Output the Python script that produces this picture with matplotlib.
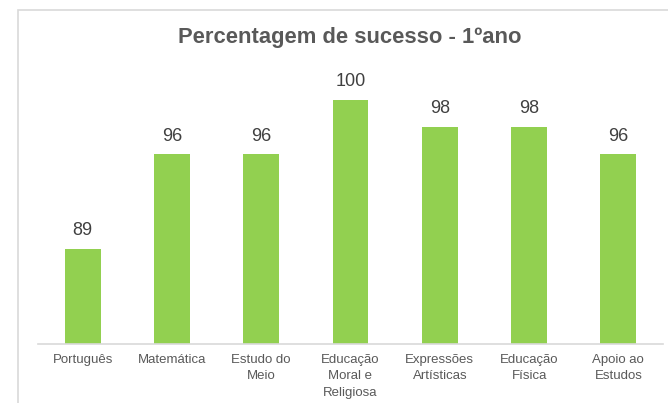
import matplotlib
matplotlib.use("Agg")
import matplotlib.pyplot as plt
from matplotlib.patches import Rectangle

categories = ["Português", "Matemática", "Estudo do\nMeio", "Educação\nMoral e\nReligiosa",
              "Expressões\nArtísticas", "Educação\nFísica", "Apoio ao\nEstudos"]
values = [89, 96, 96, 100, 98, 98, 96]
title = "Percentagem de sucesso - 1ºano"

W, H = 668, 403
fig = plt.figure(figsize=(W / 100, H / 100), dpi=100)
fig.patch.set_facecolor("white")

# chart frame
fig.patches.append(Rectangle((18 / W, -0.1), 1.2, 1 - 10 / H + 0.1, transform=fig.transFigure,
                             fill=False, edgecolor="#D9D9D9", linewidth=1.2))

left, right = 38 / W, 663 / W
bottom, top = 1 - 344 / H, 1 - 70 / H
ax = fig.add_axes([left, bottom, right - left, top - bottom])
ax.set_facecolor("none")

x = range(len(categories))
bars = ax.bar(x, values, width=0.4, color="#92D050", zorder=2)
ax.set_xlim(-0.5, len(categories) - 0.5)
ymin = 82
ax.set_ylim(ymin, ymin + (344 - 70) / 13.55)

for rect, v in zip(bars, values):
    ax.annotate(str(v), (rect.get_x() + rect.get_width() / 2, v), xytext=(0, 7),
                textcoords="offset points", ha="center", va="bottom",
                fontsize=13, color="#404040", family="Liberation Sans")

ax.set_xticks(list(x))
ax.set_xticklabels(categories, fontsize=9.5, color="#595959", family="Liberation Sans",
                   linespacing=1.5)
ax.tick_params(axis="x", length=0, pad=7)
ax.set_yticks([])
for s in ["left", "right", "top"]:
    ax.spines[s].set_visible(False)
ax.spines["bottom"].set_color("#D9D9D9")
ax.spines["bottom"].set_linewidth(1.2)

fig.text(350 / W, 1 - 37 / H, title, ha="center", va="center", fontsize=15.8,
         fontweight="bold", color="#595959", family="Liberation Sans")

fig.savefig("out.png", dpi=100)
